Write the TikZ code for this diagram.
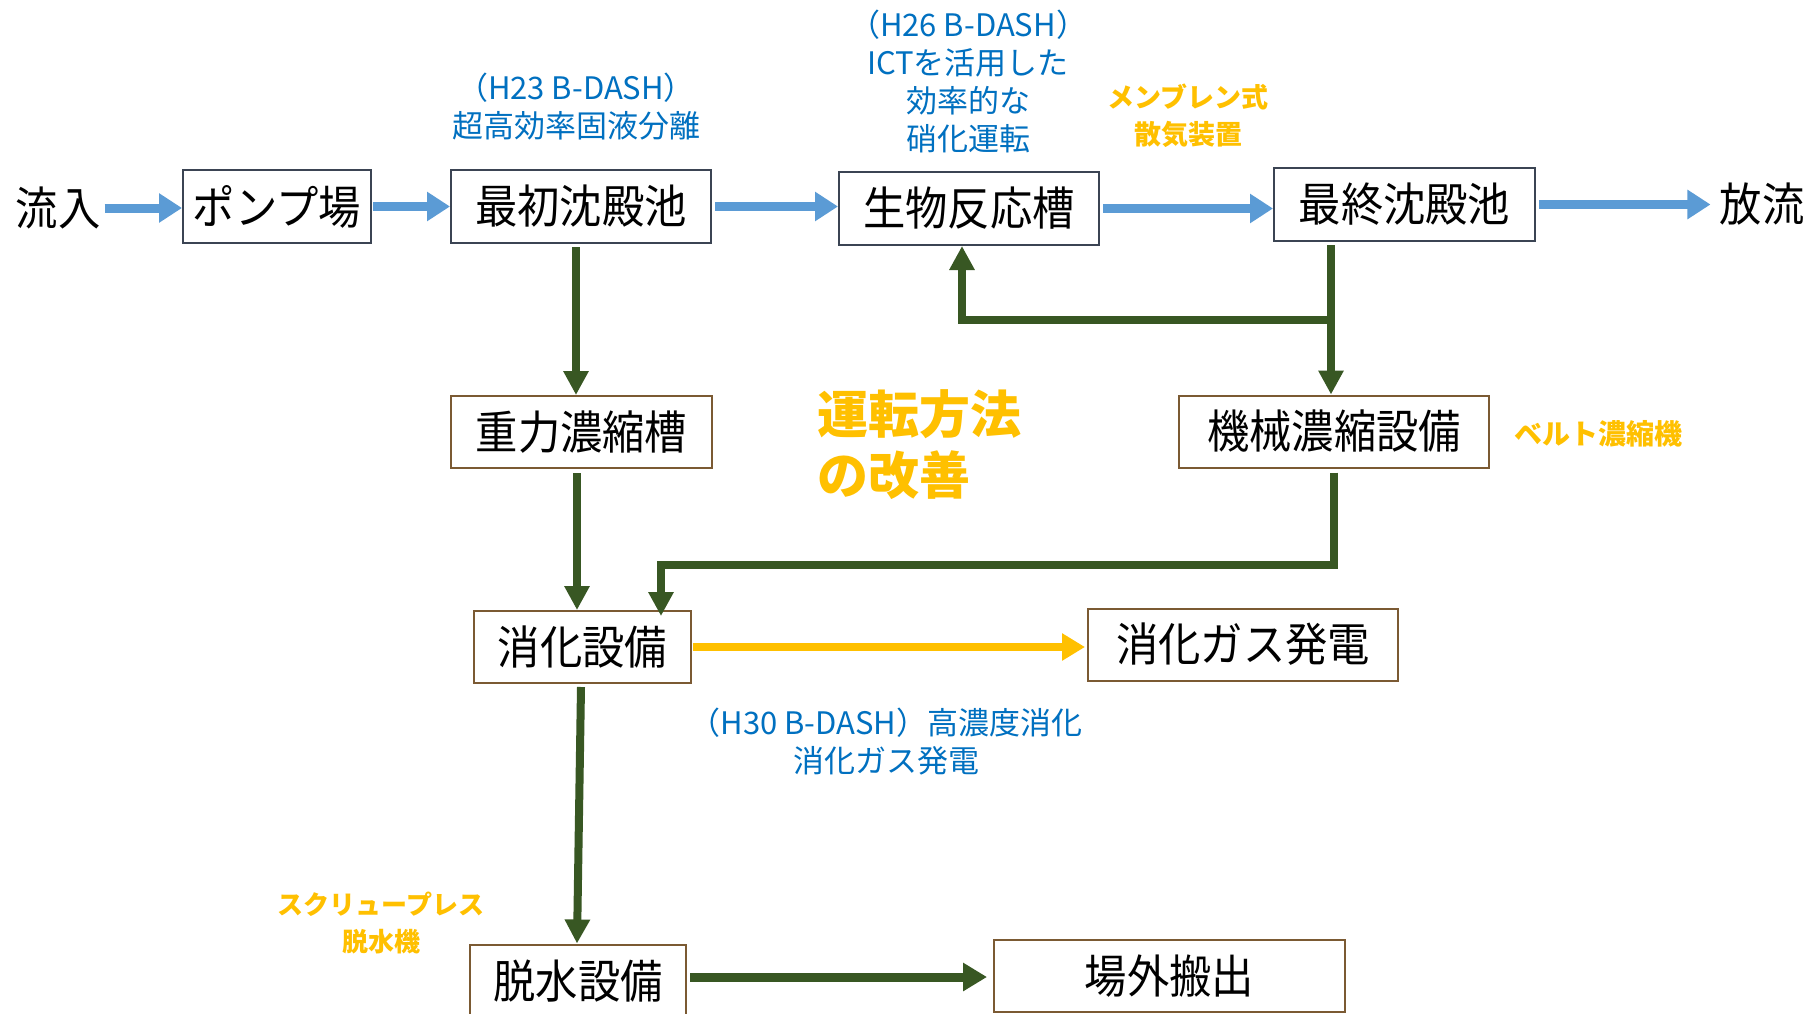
\documentclass[tikz,border=0pt]{standalone}
\usepackage{fontspec}
\usetikzlibrary{arrows.meta,calc}
\newfontfamily\jpbox[FakeStretch=0.92]{Noto Sans CJK JP}
\newfontfamily\jpn{Noto Sans CJK JP}
\definecolor{flowblue}{HTML}{5B9BD5}
\definecolor{textblue}{HTML}{0070C0}
\definecolor{sludge}{HTML}{385723}
\definecolor{gasyellow}{HTML}{FFC000}
\definecolor{edgetop}{HTML}{3B4453}
\definecolor{edgebrown}{HTML}{7B5A33}
\tikzset{
  x=1pt,y=-1pt,
  topbox/.style={draw=edgetop,line width=2pt,fill=white,minimum height=73pt,inner sep=0pt,font=\jpbox\fontsize{46}{50}\selectfont},
  lowbox/.style={draw=edgebrown,line width=2pt,fill=white,minimum height=72pt,inner sep=0pt,font=\jpbox\fontsize{46}{50}\selectfont},
  plain/.style={inner sep=0pt,font=\jpbox\fontsize{46}{50}\selectfont},
  bluenote/.style={inner sep=0pt,align=center,text=textblue,font=\jpn\fontsize{31}{38}\selectfont},
  orangenote/.style={inner sep=0pt,align=center,text=gasyellow,font=\jpn\bfseries\fontsize{27}{37}\selectfont},
  waterarrow/.style={draw=flowblue,line width=9pt,-{Triangle[length=23pt,width=28pt]}},
  sludgearrow/.style={draw=sludge,line width=8pt,-{Triangle[length=24pt,width=24pt]}},
  sludgeline/.style={draw=sludge,line width=8pt},
  gasarrow/.style={draw=gasyellow,line width=8pt,-{Triangle[length=23pt,width=26pt]}},
}
\begin{document}
\begin{tikzpicture}
\useasboundingbox[fill=white] (0,0) rectangle (1818,1014);
% top row
\node[plain] (inflow) at (58,208) {流入};
\node[topbox,minimum width=188pt] (pump) at (277,206.5) {ポンプ場};
\node[topbox,minimum width=260pt] (primary) at (581,206.5) {最初沈殿池};
\node[topbox,minimum width=260pt] (bio) at (969,208.5) {生物反応槽};
\node[topbox,minimum width=261pt] (final) at (1404.5,204.5) {最終沈殿池};
\node[plain] (outflow) at (1762,204) {放流};
% lower boxes
\node[lowbox,minimum width=261pt] (gravity) at (581.5,432) {重力濃縮槽};
\node[lowbox,minimum width=310pt] (mech) at (1334,431.5) {機械濃縮設備};
\node[lowbox,minimum width=217pt] (digest) at (582.5,647) {消化設備};
\node[lowbox,minimum width=310pt] (gaspower) at (1243,644.5) {消化ガス発電};
\node[lowbox,minimum width=216pt,minimum height=73pt] (dewater) at (578,981) {脱水設備};
\node[lowbox,minimum width=351pt] (disposal) at (1169.5,976) {場外搬出};
% notes
\node[bluenote] (n23) at (576,107) {（H23 B-DASH）\\超高効率固液分離};
\node[bluenote] (n26) at (968,81.5) {（H26 B-DASH）\\ICTを活用した\\効率的な\\硝化運転};
\node[orangenote] (membrane) at (1188,115.5) {メンブレン式\\散気装置};
\node[inner sep=0pt,align=left,anchor=west,text=gasyellow,font=\jpn\bfseries\fontsize{51}{61}\selectfont] (improve) at (817,444.5) {運転方法\\の改善};
\node[orangenote,font=\jpn\bfseries\fontsize{28}{37}\selectfont] (belt) at (1598,434) {ベルト濃縮機};
\node[bluenote] (n30) at (886,742) {（H30 B-DASH）高濃度消化\\消化ガス発電};
\node[orangenote,font=\jpn\bfseries\fontsize{26}{37}\selectfont] (screw) at (381,922.5) {スクリュープレス\\脱水機};
% water line
\draw[waterarrow] ([xshift=4pt]inflow.east) -- (inflow.east -| pump.west);
\draw[waterarrow] ([xshift=1pt]pump.east) -- (pump.east -| primary.west);
\draw[waterarrow] ([xshift=3pt]primary.east) -- (primary.east -| bio.west);
\draw[waterarrow] ([xshift=3pt]bio.east) -- (bio.east -| final.west);
\draw[waterarrow] ([xshift=3pt]final.east) -- ([xshift=-9pt]final.east -| outflow.west);
% sludge lines
\draw[sludgearrow] ([yshift=-3pt]primary.south -| 576,0) -- (gravity.north -| 576,0);
\draw[sludgearrow] ([yshift=-3pt]final.south -| 1331,0) -- (mech.north -| 1331,0);
\coordinate (branch) at (1331,320);
\coordinate (bioret) at (962,320);
\draw[sludgearrow] (branch) -- (bioret) -- (bio.south -| bioret);
\coordinate (mechturn) at (1334,565);
\coordinate (digturn) at (661,565);
\draw[sludgearrow] ([yshift=-4pt]mech.south -| mechturn) -- (mechturn) -- (digturn) -- ([yshift=-6pt]digest.north -| digturn);
\draw[sludgearrow] ([yshift=-4pt]gravity.south -| 577,0) -- (digest.north -| 577,0);
\draw[sludgearrow] ([yshift=-3pt]digest.south -| 581,0) -- (dewater.north -| 577,0);
\draw[gasarrow] ([xshift=1pt]digest.east) -- ([xshift=-2pt]digest.east -| gaspower.west);
\draw[sludgearrow,line width=9pt,-{Triangle[length=24pt,width=27pt]}] ([xshift=3pt,yshift=4pt]dewater.east) -- ([xshift=-6pt,yshift=4pt]dewater.east -| disposal.west);
\end{tikzpicture}
\end{document}
